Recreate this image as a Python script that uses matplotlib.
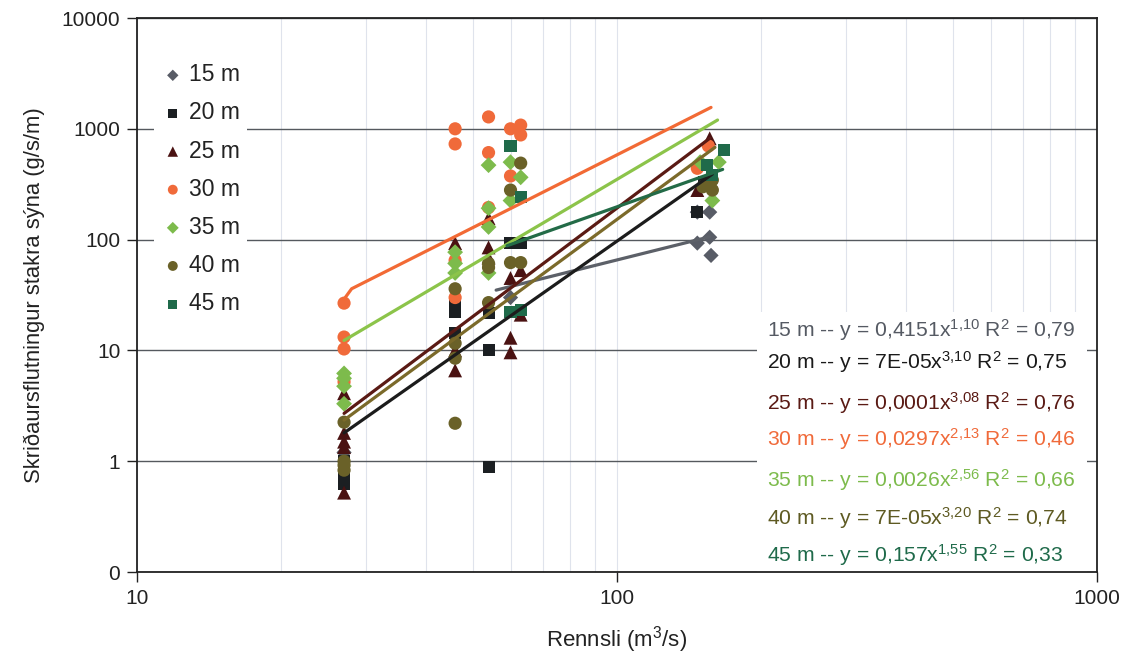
import matplotlib
matplotlib.use("Agg")
import matplotlib.pyplot as plt
from matplotlib.ticker import FixedLocator, FixedFormatter, NullFormatter
from matplotlib.patches import Rectangle

plt.rcParams['font.family'] = ['Liberation Sans', 'DejaVu Sans']
plt.rcParams['mathtext.fontset'] = 'custom'
plt.rcParams['mathtext.rm'] = 'Liberation Sans'
plt.rcParams['mathtext.it'] = 'Liberation Sans'

# ---------------- data ----------------
series = ["15 m", "20 m", "25 m", "30 m", "35 m", "40 m", "45 m"]

x15 = [27, 60, 147, 156, 147, 156, 157]
y15 = [1.2, 30, 93, 105, 177, 177, 72]

x20 = [27, 27, 27, 46, 46, 46, 54, 54, 54, 60, 63, 147, 152]
y20 = [0.62, 0.78, 1.0, 26, 22, 14.3, 21.7, 10, 0.88, 93, 93, 177, 330]

x25 = [27, 27, 27, 27, 27, 46, 46, 46, 54, 54, 54, 60, 60, 60, 63, 63, 156, 147]
y25 = [4.1, 1.8, 1.5, 1.34, 0.52, 93, 10, 6.6, 156, 85, 69, 45, 13, 9.6, 53, 21, 820, 280]

x30 = [27, 27, 27, 27, 46, 46, 46, 46, 54, 54, 54, 60, 60, 63, 63, 147, 155]
y30 = [26.7, 13.2, 10.3, 5.2, 1000, 730, 65, 30, 1280, 610, 195, 1000, 375, 1080, 880, 440, 700]

x35 = [27, 27, 27, 27, 46, 46, 46, 54, 54, 54, 54, 60, 60, 63, 149, 163, 158]
y35 = [6.2, 5.6, 4.75, 3.3, 77, 61, 50, 470, 192, 130, 50, 500, 225, 365, 500, 500, 225]

x40 = [27, 27, 27, 27, 46, 46, 46, 46, 54, 54, 54, 60, 60, 63, 63, 158, 151, 158]
y40 = [2.25, 1.0, 0.92, 0.83, 36, 11.6, 8.5, 2.2, 61, 56, 27, 280, 62, 490, 62, 345, 300, 280]

x45 = [60, 60, 63, 63, 167, 154, 158]
y45 = [700, 22, 240, 23, 640, 470, 380]

xs = [x15, x20, x25, x30, x35, x40, x45]
ys = [y15, y20, y25, y30, y35, y40, y45]

# trend lines
t15x, t15y = [56, 156], [35, 106]
t20x, t20y = [27, 158], [1.8, 390]
t25x, t25y = [27, 156], [2.7, 820]
t30x, t30y = [27, 28, 157], [29, 36, 1560]
t35x, t35y = [27, 162], [12.3, 1200]
t40x, t40y = [27, 160], [2.35, 680]
t45x, t45y = [59, 166], [88, 430]
txs = [t15x, t20x, t25x, t30x, t35x, t40x, t45x]
tys = [t15y, t20y, t25y, t30y, t35y, t40y, t45y]

equations = [
    "15 m -- y = 0,4151x$^{1{,}10}$ R$^{2}$ = 0,79",
    "20 m -- y = 7E-05x$^{3{,}10}$ R$^{2}$ = 0,75",
    "25 m -- y = 0,0001x$^{3{,}08}$ R$^{2}$ = 0,76",
    "30 m -- y = 0,0297x$^{2{,}13}$ R$^{2}$ = 0,46",
    "35 m -- y = 0,0026x$^{2{,}56}$ R$^{2}$ = 0,66",
    "40 m -- y = 7E-05x$^{3{,}20}$ R$^{2}$ = 0,74",
    "45 m -- y = 0,157x$^{1{,}55}$ R$^{2}$ = 0,33",
]

yticks = [0.1, 1, 10, 100, 1000, 10000]
ytick_labels = ["0", "1", "10", "100", "1000", "10000"]
xticks = [10, 100, 1000]
xtick_labels = ["10", "100", "1000"]

# ---------------- styles ----------------
markers = ["D", "s", "^", "o", "D", "o", "s"]
msizes = [60, 75, 100, 90, 65, 90, 75]
mcolors = ["#585c66", "#1b1f22", "#4a1212", "#f06a3a", "#7dbb4c", "#6a6128", "#1f6a4a"]
lcolors = ["#5c6068", "#1c1c1c", "#5a1a14", "#f26a35", "#8cc44a", "#7b6a2a", "#236b47"]
tcolors = ["#555a63", "#1a1a1a", "#5a1a14", "#f06a3a", "#7dbb4c", "#5e5a22", "#1f6a4a"]
eq_y = [330, 362, 403, 439, 480, 518, 555]  # pixel rows

W, H = 1130, 660
fig = plt.figure(figsize=(W / 100, H / 100), dpi=100)
L, R, T, B = 137, 1097, 18, 572
ax = fig.add_axes([L / W, 1 - B / H, (R - L) / W, (B - T) / H])
ax.set_xscale("log")
ax.set_yscale("log")
ax.set_xlim(10, 1000)
ax.set_ylim(0.1, 10000)

ax.yaxis.set_major_locator(FixedLocator(yticks))
ax.yaxis.set_major_formatter(FixedFormatter(ytick_labels))
ax.yaxis.set_minor_locator(FixedLocator([]))
ax.xaxis.set_major_locator(FixedLocator(xticks))
ax.xaxis.set_major_formatter(FixedFormatter(xtick_labels))
ax.xaxis.set_minor_formatter(NullFormatter())
ax.tick_params(axis="both", which="major", direction="out", length=7, width=1,
               labelsize=15, colors="#222222", pad=5)
ax.tick_params(axis="x", which="minor", length=0)

ax.grid(True, axis="y", which="major", color="#55595e", lw=1.0, zorder=0)
ax.grid(True, axis="x", which="both", color="#dfe3ec", lw=0.8, zorder=0)
ax.set_axisbelow(True)
for s in ax.spines.values():
    s.set_color("#222222")
    s.set_linewidth(1.3)

for i in range(len(series)):
    ax.scatter(xs[i], ys[i], marker=markers[i], s=msizes[i], color=mcolors[i],
               edgecolors="none", zorder=3, label=series[i])
for i in range(len(series)):
    ax.plot(txs[i], tys[i], color=lcolors[i], lw=2.3, zorder=4,
            solid_capstyle="round")

leg = ax.legend(loc="upper left", bbox_to_anchor=(6 / (R - L), 1 - 27 / (B - T)),
                frameon=True, fontsize=16.5, labelspacing=0.66, handletextpad=0.2,
                handlelength=1.0, borderpad=0.3, scatterpoints=1,
                markerscale=0.75)
leg.get_frame().set_facecolor("white")
leg.get_frame().set_edgecolor("none")
leg.get_frame().set_alpha(1)
leg.set_zorder(5)
for t in leg.get_texts():
    t.set_color("#222222")

# equation box
bx0, bx1, by0 = 757, 1087, 312
ax.add_patch(Rectangle(((bx0 - L) / (R - L), 0), (bx1 - bx0) / (R - L),
                       (B - by0) / (B - T), transform=ax.transAxes,
                       facecolor="white", edgecolor="none", zorder=2))
for i in range(len(series)):
    ax.text((767 - L) / (R - L), (B - eq_y[i]) / (B - T), equations[i],
            transform=ax.transAxes, color=tcolors[i], fontsize=15.2,
            ha="left", va="center", zorder=6)

ax.set_xlabel("Rennsli (m$^3$/s)", fontsize=16, color="#222222", labelpad=12)
ax.set_ylabel("Skriðaursflutningur stakra sýna (g/s/m)", fontsize=15.8,
              color="#222222", labelpad=12)

fig.savefig("out.png", dpi=100, facecolor="white")
